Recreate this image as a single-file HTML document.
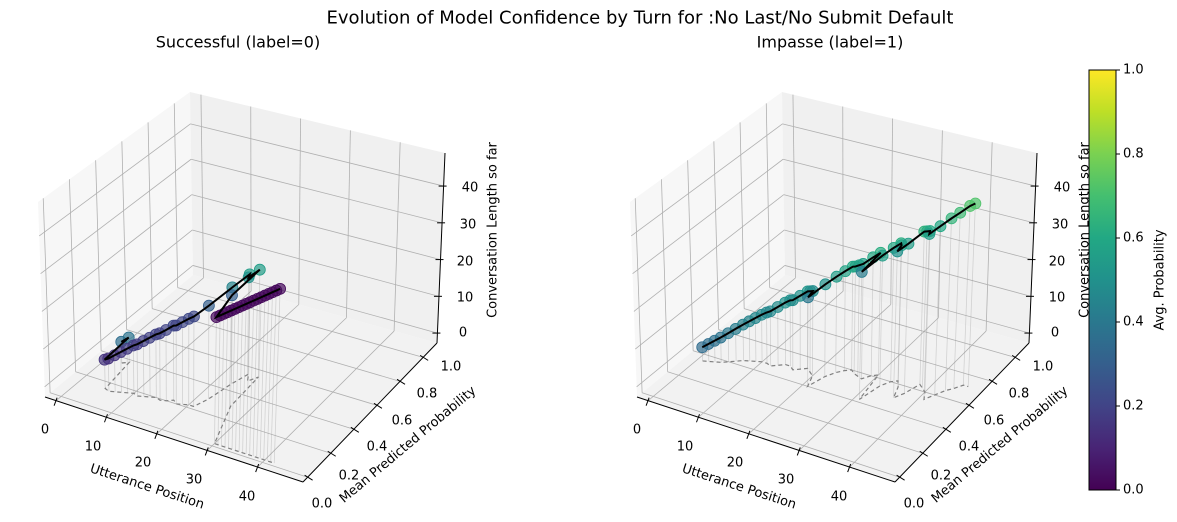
<!DOCTYPE html>
<html><head><meta charset="utf-8"><style>
body{margin:0;background:#fff;}
svg{display:block;font-family:"DejaVu Sans","Liberation Sans",sans-serif;}
</style></head><body>
<svg id="s" width="1177" height="522" xmlns="http://www.w3.org/2000/svg">
<defs><linearGradient id="vir" x1="0" y1="1" x2="0" y2="0">
<stop offset="0" stop-color="#440154"/><stop offset="0.1" stop-color="#482475"/><stop offset="0.2" stop-color="#414487"/><stop offset="0.3" stop-color="#355f8d"/><stop offset="0.4" stop-color="#2a788e"/><stop offset="0.5" stop-color="#21918c"/><stop offset="0.6" stop-color="#22a884"/><stop offset="0.7" stop-color="#44bf70"/><stop offset="0.8" stop-color="#7ad151"/><stop offset="0.9" stop-color="#bddf26"/><stop offset="1" stop-color="#fde725"/>
</linearGradient></defs>
<g id="g"></g>
</svg>
<script>
const NS="http://www.w3.org/2000/svg";const G=document.getElementById('g');
function el(t,a,txt){const e=document.createElementNS(NS,t);for(const k in a)e.setAttribute(k,a[k]);if(txt!==undefined)e.textContent=txt;G.appendChild(e);return e;}
const xmin=-2.2,xmax=49,ymin=-0.04,ymax=1.12,zmin=-2.7,zmax=49;
const C={"000":[45,397],"100":[303,482],"110":[437,343],"010":[193,275],"001":[38,202],"011":[190,92],"111":[445,153],"101":[312,278]};
function P(x,y,z,dx){const u=(x-xmin)/(xmax-xmin),v=(y-ymin)/(ymax-ymin),w=(z-zmin)/(zmax-zmin);let X=0,Y=0;
for(const a of[0,1])for(const b of[0,1])for(const c of[0,1]){const wt=(a?u:1-u)*(b?v:1-v)*(c?w:1-w);const p=C[""+a+b+c];X+=wt*p[0];Y+=wt*p[1];}return[X+dx,Y];}
function line(p,q,st){return el('line',Object.assign({x1:p[0],y1:p[1],x2:q[0],y2:q[1]},st));}
function poly(pts,st){return el('polygon',Object.assign({points:pts.map(p=>p.join(',')).join(' ')},st));}
const VS=[[68,1,84],[72,36,117],[65,68,135],[53,95,141],[42,120,142],[33,145,140],[34,168,132],[68,191,112],[122,209,81],[189,223,38],[253,231,37]];
function vir(t){t=Math.max(0,Math.min(1,t))*10;const i=Math.min(9,Math.floor(t)),f=t-i;const a=VS[i],b=VS[i+1];return`rgb(${a.map((c,k)=>Math.round(c+(b[k]-c)*f)).join(',')})`;}
const xt=[0,10,20,30,40],yt=[0,.2,.4,.6,.8,1],zt=[0,10,20,30,40];
function axes(dx,data){
 const gs={stroke:'#b0b0b0','stroke-width':0.8};
 poly([P(xmin,ymin,zmin,dx),P(xmax,ymin,zmin,dx),P(xmax,ymax,zmin,dx),P(xmin,ymax,zmin,dx)],{fill:'#f2f2f2'});
 poly([P(xmin,ymin,zmin,dx),P(xmin,ymax,zmin,dx),P(xmin,ymax,zmax,dx),P(xmin,ymin,zmax,dx)],{fill:'#f7f7f7'});
 poly([P(xmin,ymax,zmin,dx),P(xmax,ymax,zmin,dx),P(xmax,ymax,zmax,dx),P(xmin,ymax,zmax,dx)],{fill:'#f0f0f0'});
 for(const x of xt){line(P(x,ymin,zmin,dx),P(x,ymax,zmin,dx),gs);line(P(x,ymax,zmin,dx),P(x,ymax,zmax,dx),gs);}
 for(const y of yt){line(P(xmin,y,zmin,dx),P(xmax,y,zmin,dx),gs);line(P(xmin,y,zmin,dx),P(xmin,y,zmax,dx),gs);}
 for(const z of zt){line(P(xmin,ymin,z,dx),P(xmin,ymax,z,dx),gs);line(P(xmin,ymax,z,dx),P(xmax,ymax,z,dx),gs);}
 const ax={stroke:'#000','stroke-width':1};
 line(P(xmin,ymin,zmin,dx),P(xmax,ymin,zmin,dx),ax);
 line(P(xmax,ymin,zmin,dx),P(xmax,ymax,zmin,dx),ax);
 line(P(xmax,ymax,zmin,dx),P(xmax,ymax,zmax,dx),ax);
 for(const x of xt){const p=P(x,ymin,zmin,dx);line([p[0]+1,p[1]-3],[p[0]-2,p[1]+5],ax);}
 for(const y of yt){const p=P(xmax,y,zmin,dx);line([p[0]-3,p[1]-2],[p[0]+5,p[1]+3],ax);}
 for(const z of zt){const p=P(xmax,ymax,z,dx);line([p[0]-5,p[1]],[p[0]+3,p[1]],ax);}
 const ts={'font-size':13,fill:'#000','text-anchor':'middle','dominant-baseline':'central'};
 [[45,430],[93,447],[143,463],[194,480],[247,497]].forEach((p,i)=>el('text',Object.assign({x:p[0]+dx,y:p[1]},ts),String(xt[i])));
 [[322,504],[349,476],[377,447],[402,421],[427,394],[451,367]].forEach((p,i)=>el('text',Object.assign({x:p[0]+dx,y:p[1]},ts),yt[i].toFixed(1)));
 [[463,333],[465,298],[465,262],[468,225],[470,188]].forEach((p,i)=>el('text',Object.assign({x:p[0]+dx,y:p[1]},ts),String(zt[i])));
 el('text',Object.assign({transform:`translate(${147+dx},487) rotate(18)`},ts),'Utterance Position');
 el('text',Object.assign({transform:`translate(${408+dx},445) rotate(-40)`},ts),'Mean Predicted Probability');
 el('text',Object.assign({transform:`translate(${493+dx},230) rotate(-90)`},ts),'Conversation Length so far');
 const fl=data.map(d=>P(d[0],d[1],zmin,dx));
 el('polyline',{points:fl.map(p=>p.join(',')).join(' '),fill:'none',stroke:'#808080','stroke-width':1.2,'stroke-dasharray':'4,3'});
 const tp=data.map(d=>P(d[0],d[1],d[0],dx));
 tp.forEach((p,i)=>line(p,fl[i],{stroke:'#999','stroke-width':0.8,'stroke-opacity':0.35}));
 tp.forEach((p,i)=>el('circle',{cx:p[0],cy:p[1],r:5.5,fill:vir(data[i][1]),'fill-opacity':0.7,stroke:vir(data[i][1]),'stroke-width':0.8}));
 el('polyline',{points:tp.map(p=>p.join(',')).join(' '),fill:'none',stroke:'#000','stroke-width':2});
}
const L=[[3,.36],[4,.38],[5,.15],[6,.14],[7,.15],[8,.16],[9,.17],[10,.18],[11,.17],[12,.18],[13,.19],[14,.2],[15,.19],[16,.2],[17,.22],[18,.2],[19,.21],[20,.22],[21,.22],[22,.3],[23,.45],[24,.55],[25,.5],[26,.55],[26.5,.3]];
for(let x=30;x<=42.01;x+=0.7)L.push([x,0.02]);
const Ry=[.35,.36,.37,.38,.4,.42,.44,.45,.46,.47,.47,.46,.48,.5,.5,.48,.5,.52,.5,.48,.4,.5,.55,.58,.6,.58,.57,.56,.6,.62,.42,.55,.6,.62,.58,.5,.55,.64,.62,.6,.55,.6,.65,.68,.72,.72];
const R=Ry.map((y,i)=>[i+1,y]);
axes(0,L);axes(592,R);
el('text',{x:640,y:18,'font-size':18,'text-anchor':'middle','dominant-baseline':'central'},'Evolution of Model Confidence by Turn for :No Last/No Submit Default');
el('text',{x:238,y:42,'font-size':16,'text-anchor':'middle','dominant-baseline':'central'},'Successful (label=0)');
el('text',{x:830,y:42,'font-size':16,'text-anchor':'middle','dominant-baseline':'central'},'Impasse (label=1)');
el('rect',{x:1089,y:70,width:27,height:420,fill:'url(#vir)',stroke:'#000','stroke-width':1});
[0,.2,.4,.6,.8,1].forEach(t=>{const y=490-420*t;line([1116,y],[1120,y],{stroke:'#000','stroke-width':1});el('text',{x:1123,y:y,'font-size':13,'dominant-baseline':'central'},t.toFixed(1));});
el('text',{transform:'translate(1160,280) rotate(-90)','font-size':13,'text-anchor':'middle','dominant-baseline':'central'},'Avg. Probability');
</script>
</body></html>
